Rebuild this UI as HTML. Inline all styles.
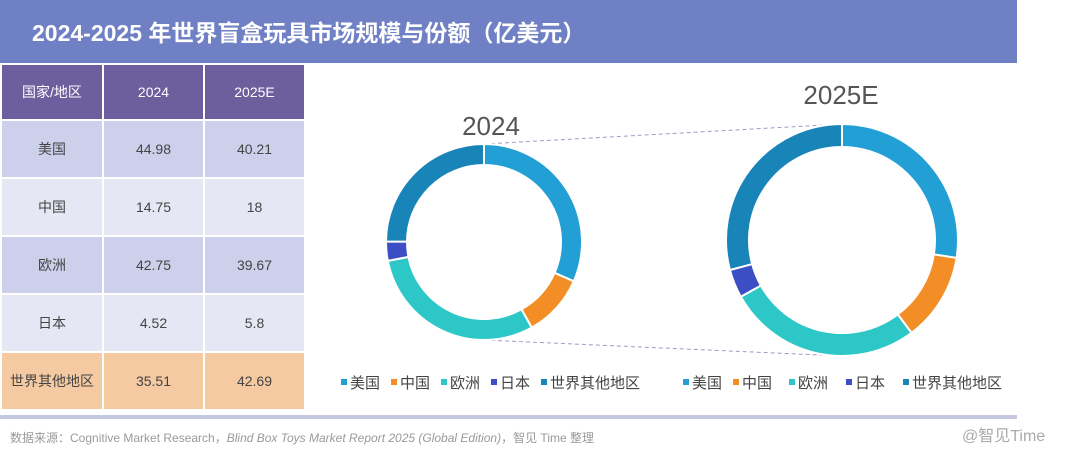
<!DOCTYPE html>
<html><head><meta charset="utf-8">
<style>
body{margin:0;width:1080px;height:458px;background:#fff;overflow:hidden;position:relative;font-family:"Liberation Sans","Noto Sans CJK SC",sans-serif;}
#title{position:absolute;left:0;top:0;width:1017px;height:63px;background:#7080c4;color:#fff;font-size:23px;font-weight:bold;line-height:66px;padding-left:32px;box-sizing:border-box;}
table{position:absolute;left:0;top:63px;border-collapse:collapse;}
td{border:2px solid #fff;text-align:center;font-size:14px;color:#444;height:56px;padding:0;}
tr.h td{background:#6d5e9d;color:#fff;height:54px;}
tr.a td{background:#ccd0ea;}
tr.b td{background:#e6e7f4;}
tr.c td{background:#f5c9a1;}
#src{position:absolute;left:10px;top:429px;font-size:12px;color:#9a9a9a;}
#wm{position:absolute;left:962px;top:422px;font-size:16px;color:#aaa;}
</style></head><body>
<div id="title">2024-2025 年世界盲盒玩具市场规模与份额（亿美元）</div>
<table>
<tr class="h"><td style="width:100px">国家/地区</td><td style="width:99px">2024</td><td style="width:99px">2025E</td></tr>
<tr class="a"><td>美国</td><td>44.98</td><td>40.21</td></tr>
<tr class="b"><td>中国</td><td>14.75</td><td>18</td></tr>
<tr class="a"><td>欧洲</td><td>42.75</td><td>39.67</td></tr>
<tr class="b"><td>日本</td><td>4.52</td><td>5.8</td></tr>
<tr class="c"><td>世界其他地区</td><td>35.51</td><td>42.69</td></tr>
</table>
<div style="position:absolute;left:0;top:415px;width:1017px;height:4px;background:#c5c8e0"></div>
<div id="src">数据来源：Cognitive Market Research，<i>Blind Box Toys Market Report 2025 (Global Edition)</i>，智见 Time 整理</div>
<div id="wm">@智见Time</div>
<svg id="chart" width="1080" height="458" style="position:absolute;left:0;top:0"></svg>
<script>
const categories=["美国","中国","欧洲","日本","世界其他地区"];
const values2024=[44.98,14.75,42.75,4.52,35.51];
const values2025=[40.21,18,39.67,5.8,42.69];
const colors=["#22a0d6","#f28e25","#2ec7c7","#3b4ec4","#1884b8"];
const NS="http://www.w3.org/2000/svg";
const svg=document.getElementById('chart');
function mk(t,a){const e=document.createElementNS(NS,t);for(const k in a)e.setAttribute(k,a[k]);svg.appendChild(e);return e;}
function donut(vals,cx,cy,R,r,name){
  const tot=vals.reduce((a,b)=>a+b,0);let a0=0;
  vals.forEach((v,i)=>{
    const a1=a0+v/tot*2*Math.PI;
    const p=(ang,rad)=>[cx+rad*Math.sin(ang),cy-rad*Math.cos(ang)];
    const [x1,y1]=p(a0,R),[x2,y2]=p(a1,R),[x3,y3]=p(a1,r),[x4,y4]=p(a0,r);
    const lg=(a1-a0)>Math.PI?1:0;
    const e=mk('path',{d:`M${x1},${y1}A${R},${R} 0 ${lg} 1 ${x2},${y2}L${x3},${y3}A${r},${r} 0 ${lg} 0 ${x4},${y4}Z`,fill:colors[i],stroke:'#fff','stroke-width':2});
    
    
    a0=a1;
  });
}
mk('line',{x1:484,y1:144,x2:842,y2:124,stroke:'#9c9cc0','stroke-dasharray':'4,3','stroke-width':1});
mk('line',{x1:484,y1:340,x2:842,y2:356,stroke:'#9c9cc0','stroke-dasharray':'4,3','stroke-width':1});
donut(values2024,484,242,98,77,'donut-2024');
donut(values2025,842,240,116,93,'donut-2025');
const t1=mk('text',{x:491,y:135,'font-size':26,fill:'#555','text-anchor':'middle'});t1.textContent='2024';


const t2=mk('text',{x:841,y:104,'font-size':26,fill:'#555','text-anchor':'middle'});t2.textContent='2025E';


function legend(x0,gaps){
  let x=x0;
  categories.forEach((c,i)=>{
    const r=mk('rect',{x:x,y:379,width:6,height:6,fill:colors[i]});
    
    
    const t=mk('text',{x:x+9,y:388,'font-size':15,fill:'#444'});t.textContent=c;
    
    
    x+=gaps[i];
  });
}
legend(341,[50,50,50,50,0]);
legend(683,[50,56,57,57,0]);
</script>
</body></html>
